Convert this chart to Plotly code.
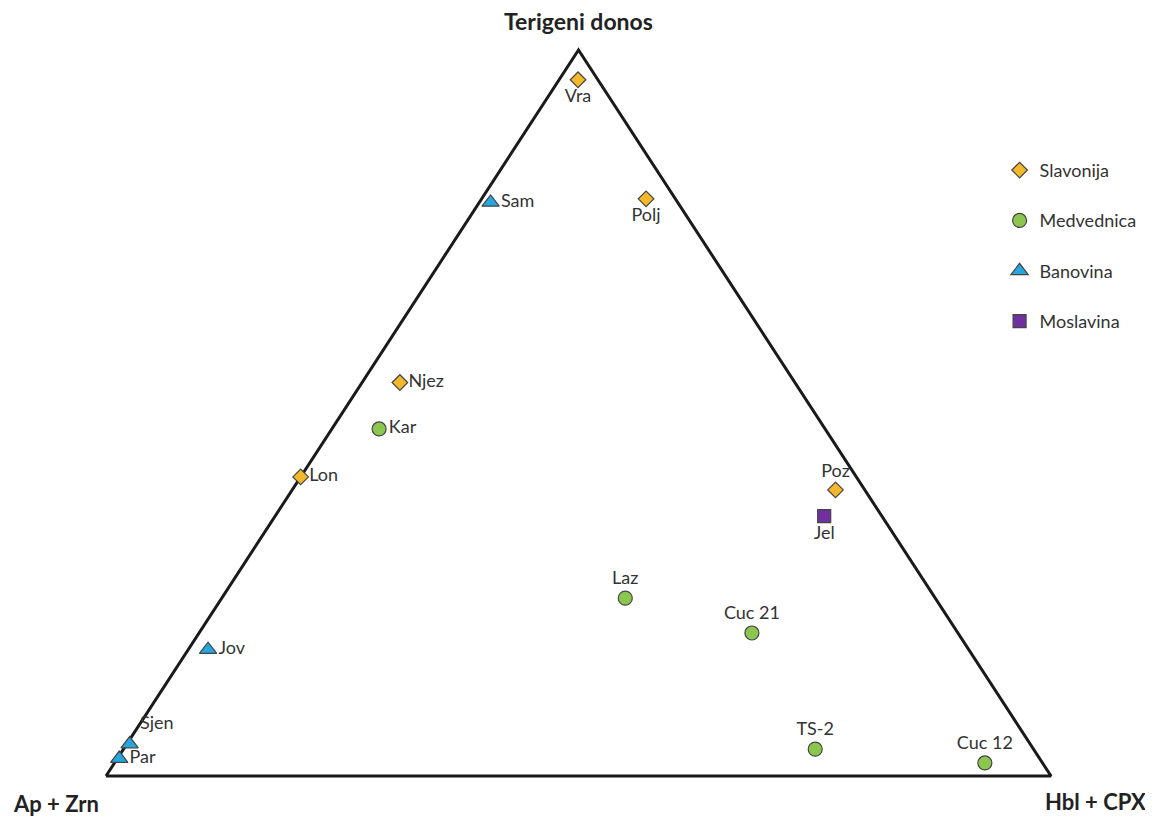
import plotly.graph_objects as go

# Ternary compositions (fractions): top = Terigeni donos, right = Hbl + CPX, left = Ap + Zrn
groups = ["Slavonija", "Medvednica", "Banovina", "Moslavina"]

slav_names = ["Vra", "Polj", "Njez", "Lon", "Poz"]
slav_top = [0.959, 0.795, 0.542, 0.412, 0.394]
slav_right = [0.020, 0.174, 0.040, 0.000, 0.575]

medv_names = ["Kar", "Laz", "Cuc 21", "TS-2", "Cuc 12"]
medv_top = [0.478, 0.245, 0.197, 0.037, 0.018]
medv_right = [0.050, 0.427, 0.585, 0.732, 0.921]

banov_names = ["Sam", "Jov", "Sjen", "Par"]
banov_top = [0.790, 0.174, 0.044, 0.024]
banov_right = [0.012, 0.021, 0.003, 0.002]

mosl_names = ["Jel"]
mosl_top = [0.358]
mosl_right = [0.581]

slav_pos = ["bottom center", "bottom center", "middle right", "middle right", "top center"]
medv_pos = ["middle right", "top center", "top center", "top center", "top center"]
banov_pos = ["middle right", "middle right", "top right", "middle right"]
mosl_pos = ["bottom center"]

FONT = "Lato, 'Open Sans', sans-serif"


def to_xy(top, right):
    xs = [r + t / 2 for t, r in zip(top, right)]
    ys = list(top)
    return xs, ys


fig = go.Figure()

# triangle frame from the three pure end-members
corner_top = [0, 0, 1, 0]
corner_right = [0, 1, 0, 0]
fx, fy = to_xy(corner_top, corner_right)
fig.add_trace(go.Scatter(x=fx, y=fy, mode="lines", line=dict(color="#1a1a1a", width=3),
                         showlegend=False, hoverinfo="skip"))

series = [
    ("Slavonija", slav_names, slav_top, slav_right, slav_pos, "diamond", "#F4B92B", 12),
    ("Medvednica", medv_names, medv_top, medv_right, medv_pos, "circle", "#8BC64F", 14),
    ("Banovina", banov_names, banov_top, banov_right, banov_pos, "triangle-up", "#27A6DD", 15),
    ("Moslavina", mosl_names, mosl_top, mosl_right, mosl_pos, "square", "#7030A0", 13),
]

for name, labels, top, right, pos, sym, col, size in series:
    xs, ys = to_xy(top, right)
    fig.add_trace(go.Scatter(
        x=xs, y=ys, mode="markers+text", name=name, text=labels,
        textposition=pos, legendgroup=name,
        textfont=dict(family=FONT, size=18, color="#333333"),
        marker=dict(symbol=sym, color=col, size=size, line=dict(color="#444444", width=1.2)),
    ))

fig.add_annotation(x=0.5, y=1.0, xref="x", yref="y", yshift=29, text="<b>Terigeni donos</b>",
                   showarrow=False, font=dict(family=FONT, size=23, color="#222222"))
fig.add_annotation(x=0.0, y=0.0, xref="x", yref="y", xshift=-50, yshift=-27, text="<b>Ap + Zrn</b>",
                   showarrow=False, font=dict(family=FONT, size=22, color="#222222"))
fig.add_annotation(x=1.0, y=0.0, xref="x", yref="y", xshift=44, yshift=-25, text="<b>Hbl + CPX</b>",
                   showarrow=False, font=dict(family=FONT, size=22, color="#222222"))

fig.update_layout(
    width=1145, height=808,
    margin=dict(l=0, r=0, t=0, b=0),
    paper_bgcolor="white", plot_bgcolor="white",
    xaxis=dict(range=[-0.10370, 1.10794], visible=False, fixedrange=True),
    yaxis=dict(range=[-0.0551, 1.05785], visible=False, fixedrange=True),
    legend=dict(x=0.866, y=0.822, xanchor="left", yanchor="top",
                font=dict(family=FONT, size=18, color="#333333"),
                traceorder="grouped", tracegroupgap=24, itemwidth=30,
                bgcolor="rgba(0,0,0,0)"),
    showlegend=True,
)

fig.write_html("out.html")
